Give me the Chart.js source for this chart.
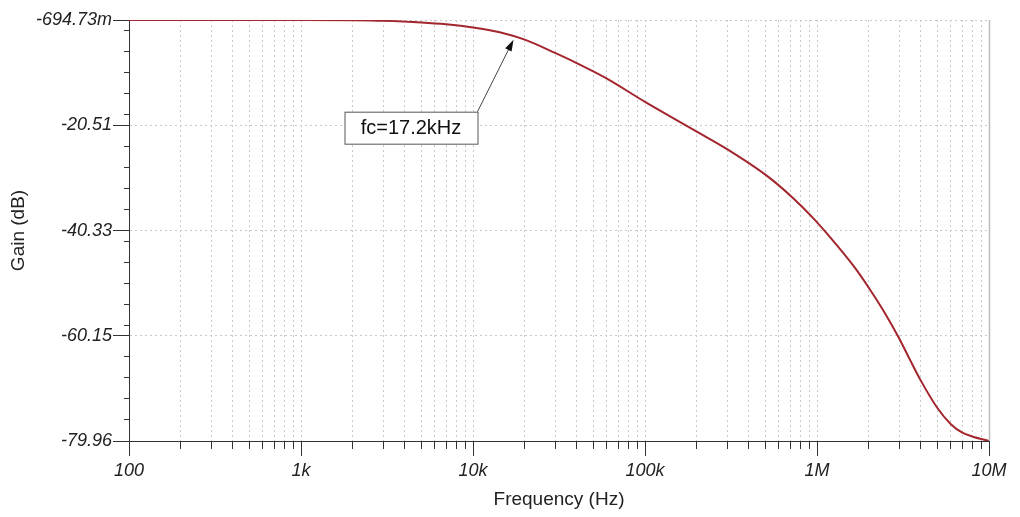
<!DOCTYPE html>
<html>
<head>
<meta charset="utf-8">
<script src="https://cdn.jsdelivr.net/npm/chart.js@4/dist/chart.umd.min.js"></script>
<style>
    html, body { margin: 0; padding: 0; background: #fff; }
    #wrap { width: 1020px; height: 517px; }
</style>
</head>
<body>
<div id="wrap"><canvas id="gainChart"></canvas></div>
<script>
// values
const freqHz = [100, 500, 1000, 2000, 3000, 5000, 7000, 10000, 14300, 20000, 30000, 40000, 59000,
    100000, 200000, 300000, 510000, 730000, 950000, 1170000, 1630000, 2000000, 2420000,
    3000000, 3440000, 4000000, 5000000, 6000000, 7000000, 8000000, 10000000];
const gainDb = [-0.695, -0.70, -0.70, -0.75, -0.85, -1.15, -1.5, -2.1, -3.0, -4.4, -6.9, -8.8, -11.6,
    -16.1, -21.7, -25.0, -30.0, -34.3, -38.0, -41.3, -47.0, -51.1, -55.3,
    -60.6, -64.4, -68.5, -73.7, -76.8, -78.4, -79.1, -79.96];

const yTicks = [-0.69473, -20.51, -40.33, -60.15, -79.96];
const yTickLabels = ['-694.73m', '-20.51', '-40.33', '-60.15', '-79.96'];
const xDecades = [100, 1e3, 1e4, 1e5, 1e6, 1e7];
const xTickLabels = ['100', '1k', '10k', '100k', '1M', '10M'];

const fcLabel = 'fc=17.2kHz';
const fcHz = 17200;
const fcTipDb = -4.4;

const axisColor = '#333333';
const gridColor = '#c9c9c9';
const lineColor = '#a3262e';
const fontFamily = 'Arial, "Liberation Sans", Helvetica, sans-serif';

function minorX() {
    const out = [];
    for (let d = 0; d < xDecades.length - 1; d++) {
        for (let k = 2; k <= 9; k++) {
            out.push(xDecades[d] * k);
        }
    }
    return out;
}

function minorY() {
    const out = [];
    for (let i = 0; i < yTicks.length - 1; i++) {
        const step = (yTicks[i + 1] - yTicks[i]) / 10;
        for (let k = 1; k < 10; k++) {
            out.push(yTicks[i] + step * k);
        }
    }
    return out;
}

const framePlugin = {
    id: 'frame',
    afterDraw(chart) {
        const ctx = chart.ctx;
        const area = chart.chartArea;
        const xs = chart.scales.x;
        const ys = chart.scales.y;

        ctx.save();
        ctx.strokeStyle = '#bdbdbd';
        ctx.lineWidth = 1.5;
        ctx.beginPath();
        ctx.moveTo(area.right + 0.5, area.top);
        ctx.lineTo(area.right + 0.5, area.bottom);
        ctx.stroke();

        // fc annotation
        const tipX = xs.getPixelForValue(fcHz);
        const tipY = ys.getPixelForValue(fcTipDb);
        const boxRight = tipX - 36;
        const boxTop = tipY + 72;
        const boxW = 133;
        const boxH = 32;

        ctx.fillStyle = '#fff';
        ctx.fillRect(boxRight - boxW, boxTop, boxW, boxH);
        ctx.strokeStyle = '#555';
        ctx.lineWidth = 1;
        ctx.strokeRect(boxRight - boxW + 0.5, boxTop + 0.5, boxW, boxH);

        ctx.fillStyle = '#111';
        ctx.font = '20px ' + fontFamily;
        ctx.textAlign = 'center';
        ctx.textBaseline = 'middle';
        ctx.fillText(fcLabel, boxRight - boxW / 2, boxTop + boxH / 2 + 1);

        const sx = boxRight;
        const sy = boxTop;
        const ang = Math.atan2(tipY - sy, tipX - sx);
        ctx.strokeStyle = '#444';
        ctx.beginPath();
        ctx.moveTo(sx, sy);
        ctx.lineTo(tipX - Math.cos(ang) * 8, tipY - Math.sin(ang) * 8);
        ctx.stroke();

        ctx.fillStyle = '#111';
        ctx.beginPath();
        ctx.moveTo(tipX, tipY);
        ctx.lineTo(tipX - Math.cos(ang - 0.3) * 12, tipY - Math.sin(ang - 0.3) * 12);
        ctx.lineTo(tipX - Math.cos(ang + 0.3) * 12, tipY - Math.sin(ang + 0.3) * 12);
        ctx.closePath();
        ctx.fill();
        ctx.restore();
    }
};

function renderGainChart() {
    const ctx = document.getElementById('gainChart').getContext('2d');
    const points = freqHz.map((f, i) => ({ x: f, y: gainDb[i] }));
    const tickFont = { family: fontFamily, size: 18, style: 'italic' };

    new Chart(ctx, {
        type: 'line',
        data: {
            datasets: [{
                label: 'Gain',
                data: points,
                borderColor: lineColor,
                borderWidth: 2,
                pointRadius: 0,
                cubicInterpolationMode: 'monotone',
                xAxisID: 'x',
                yAxisID: 'y'
            }]
        },
        options: {
            responsive: true,
            maintainAspectRatio: false,
            animation: false,
            layout: { padding: { top: 20, right: 31, left: 0, bottom: 0 } },
            plugins: {
                legend: { display: false },
                tooltip: { enabled: false }
            },
            scales: {
                x: {
                    type: 'logarithmic',
                    position: 'bottom',
                    weight: 1,
                    min: 100,
                    max: 1e7,
                    afterBuildTicks: (scale) => {
                        scale.ticks = xDecades.map(v => ({ value: v }));
                    },
                    afterFit: (scale) => { scale.height = 76; },
                    ticks: {
                        autoSkip: false,
                        maxRotation: 0,
                        padding: 4,
                        color: '#222',
                        font: tickFont,
                        callback: (value) => {
                            const i = xDecades.indexOf(value);
                            return i >= 0 ? xTickLabels[i] : '';
                        }
                    },
                    grid: { color: gridColor, tickColor: axisColor, tickLength: 15 },
                    border: { display: true, color: axisColor, width: 1, dash: [2, 3] },
                    title: {
                        display: true,
                        text: 'Frequency (Hz)',
                        color: '#222',
                        font: { family: fontFamily, size: 19 },
                        padding: { top: 0, bottom: 6 }
                    }
                },
                xMinor: {
                    type: 'logarithmic',
                    position: 'bottom',
                    weight: 0,
                    min: 100,
                    max: 1e7,
                    afterBuildTicks: (scale) => {
                        scale.ticks = minorX().map(v => ({ value: v }));
                    },
                    afterFit: (scale) => { scale.height = 0; },
                    ticks: { autoSkip: false, callback: () => '' },
                    grid: { color: gridColor, tickColor: axisColor, tickLength: 8 },
                    border: { display: false, dash: [2, 3] }
                },
                y: {
                    type: 'linear',
                    position: 'left',
                    weight: 1,
                    min: yTicks[yTicks.length - 1],
                    max: yTicks[0],
                    afterBuildTicks: (scale) => {
                        scale.ticks = yTicks.map(v => ({ value: v }));
                    },
                    afterFit: (scale) => { scale.width = 129; },
                    ticks: {
                        padding: 1,
                        color: '#222',
                        font: tickFont,
                        callback: (value) => {
                            const i = yTicks.indexOf(value);
                            return i >= 0 ? yTickLabels[i] : '';
                        }
                    },
                    grid: { color: gridColor, tickColor: axisColor, tickLength: 16 },
                    border: { display: true, color: axisColor, width: 1, dash: [2, 3] },
                    title: {
                        display: true,
                        text: 'Gain (dB)',
                        color: '#222',
                        font: { family: fontFamily, size: 19 },
                        padding: { top: 7, bottom: 0 }
                    }
                },
                yMinor: {
                    type: 'linear',
                    position: 'left',
                    weight: 0,
                    min: yTicks[yTicks.length - 1],
                    max: yTicks[0],
                    afterBuildTicks: (scale) => {
                        scale.ticks = minorY().map(v => ({ value: v }));
                    },
                    afterFit: (scale) => { scale.width = 0; },
                    ticks: { callback: () => '' },
                    grid: { drawOnChartArea: false, tickColor: axisColor, tickLength: 5 },
                    border: { display: false }
                }
            }
        },
        plugins: [framePlugin]
    });
}

renderGainChart();
</script>
</body>
</html>
